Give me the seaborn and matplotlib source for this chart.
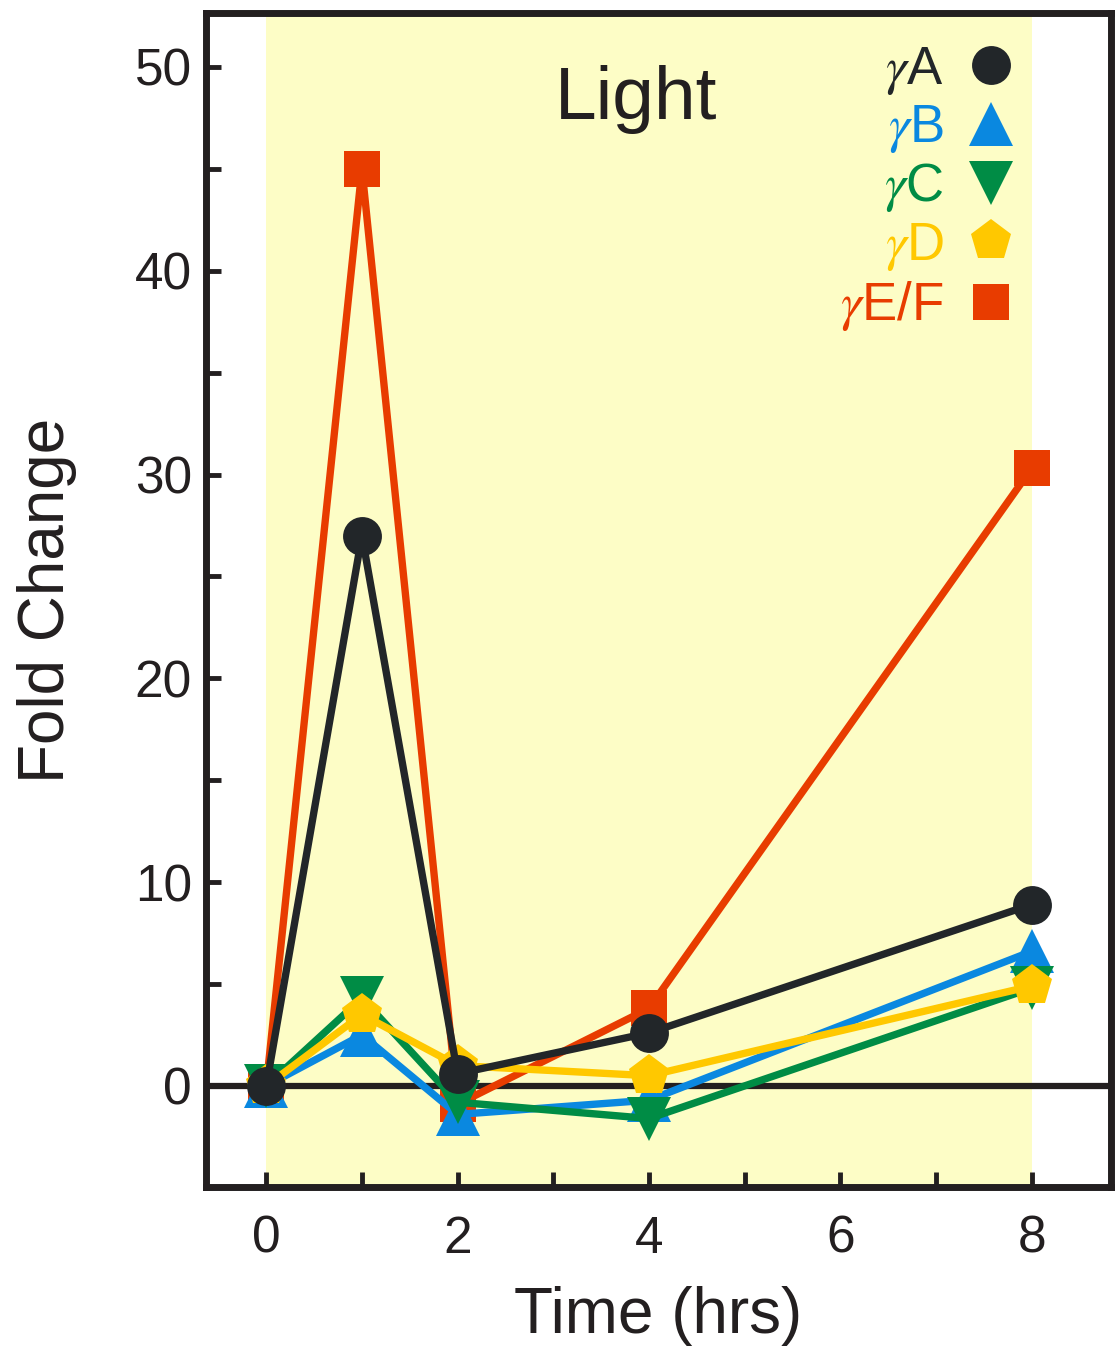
import matplotlib
matplotlib.use("Agg")
import matplotlib.lines as mlines
import matplotlib.pyplot as plt
import numpy as np
import pandas as pd
import seaborn as sns

# Time points (hrs)
time_hrs = [0, 1, 2, 4, 8]

# Fold change per crystallin gene
gamma_a = [0.0, 27.0, 0.6, 2.6, 8.9]
gamma_b = [0.0, 2.5, -1.4, -0.7, 6.6]
gamma_c = [0.0, 4.3, -0.8, -1.6, 4.8]
gamma_d = [0.0, 3.5, 1.0, 0.5, 4.9]
gamma_ef = [0.0, 45.0, -0.9, 3.8, 30.3]

series_names = ["γA", "γB", "γC", "γD", "γE/F"]
legend_labels = [r"$\gamma$A", r"$\gamma$B", r"$\gamma$C", r"$\gamma$D", r"$\gamma$E/F"]
colors = ["#222629", "#0A88E0", "#008C45", "#FFC800", "#E83C00"]
markers = ["o", "^", "v", "p", "s"]
marker_sizes = [28, 31, 31, 31, 26]

x_ticks = [0, 2, 4, 6, 8]
y_ticks = [0, 10, 20, 30, 40, 50]

values = [gamma_a, gamma_b, gamma_c, gamma_d, gamma_ef]
df = pd.DataFrame({
    "time": np.tile(time_hrs, len(series_names)),
    "fold": np.concatenate(values),
    "gene": np.repeat(series_names, len(time_hrs)),
})

sns.set_theme(style="white")
plt.rcParams["font.family"] = ["Liberation Sans", "DejaVu Sans"]
plt.rcParams["mathtext.fontset"] = "stix"

ink = "#231F20"
fig = plt.figure(figsize=(11.16, 13.53), dpi=100)
ax = fig.add_axes([0.1846, 0.1227, 0.8109, 0.8677])

# light period shading
ax.axvspan(0, 8, color="#FDFDC6", zorder=0, lw=0)
ax.axhline(0, color=ink, lw=4.5, zorder=1)

# draw order: red first, black on top
order = [4, 1, 2, 3, 0]
for i in order:
    sub = df[df["gene"] == series_names[i]]
    sns.lineplot(data=sub, x="time", y="fold", ax=ax, color=colors[i],
                 marker=markers[i], markersize=marker_sizes[i], markeredgewidth=0,
                 linewidth=5.3, legend=False, zorder=2)

ax.set_xlim(-0.63, 8.83)
ax.set_ylim(-4.96, 52.65)

ax.set_xticks(range(0, 9))
ax.set_xticklabels([str(t) if t in x_ticks else "" for t in range(0, 9)])
ax.set_yticks(np.arange(0, 51, 5))
ax.set_yticklabels([str(int(v)) if v in y_ticks else "" for v in np.arange(0, 51, 5)])
ax.tick_params(axis="both", direction="in", length=11, width=3.5, color=ink,
               labelsize=37, labelcolor=ink)
ax.tick_params(axis="x", bottom=True, top=False, pad=20)
ax.tick_params(axis="y", left=True, right=False, pad=10)

for side in ["left", "right", "top", "bottom"]:
    ax.spines[side].set_visible(True)
    ax.spines[side].set_linewidth(5)
    ax.spines[side].set_color(ink)

ax.set_xlabel("Time (hrs)", fontsize=46, color=ink, labelpad=16)
ax.set_ylabel("Fold Change", fontsize=46, color=ink, labelpad=42)

ax.text(0.475, 0.926, "Light", transform=ax.transAxes, fontsize=54,
        color=ink, ha="center", va="center")

handles = [mlines.Line2D([], [], color=colors[i], marker=markers[i], linestyle="none",
                         markersize=marker_sizes[i], markeredgewidth=0)
           for i in range(len(series_names))]
leg = ax.legend(handles, legend_labels, loc="upper right", bbox_to_anchor=(0.932, 1.0),
                frameon=False, markerfirst=False, fontsize=38, labelspacing=0.12,
                handlelength=1.0, handletextpad=0.4, borderaxespad=0.2)
for txt, c in zip(leg.get_texts(), colors):
    txt.set_color(c)
    txt.set_ha("right")
leg._legend_box.align = "right"

fig.savefig("out.png", dpi=100)
